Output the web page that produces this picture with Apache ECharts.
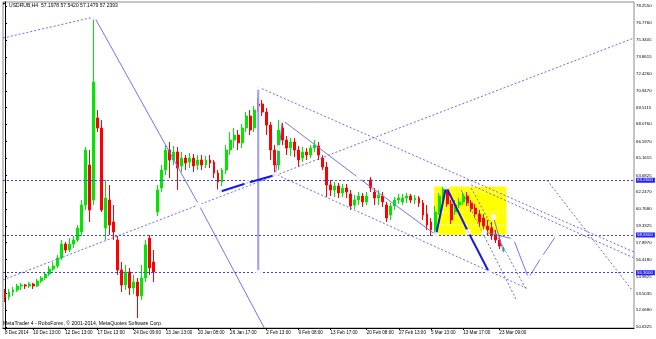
<!DOCTYPE html>
<html><head><meta charset="utf-8">
<script src="https://cdn.jsdelivr.net/npm/echarts@6/dist/echarts.min.js"></script>
<style>html,body{margin:0;padding:0;background:#fff}#c{width:656px;height:339px}</style>
</head><body><div id="c"></div>
<script>
// ---- data ----
const symbolTitle = 'USDRUB,H4  57.1978 57.5420 57.1479 57.2393';
const footer = 'MetaTrader 4 - RoboForex, \u00a9 2001-2014, MetaQuotes Software Corp.';
const priceTicks = [78.2550,76.7760,75.3405,73.8615,72.4260,70.9470,69.5115,68.0760,66.5970,65.1615,63.6825,62.2470,60.7680,59.3325,57.8970,56.4180,54.9825,53.5035,52.0680,50.6325];
const dateLabels = ['8 Dec 2014','10 Dec 13:00','12 Dec 13:00','17 Dec 13:00','24 Dec 09:00','13 Jan 13:00','20 Jan 08:00','26 Jan 17:00','2 Feb 13:00','9 Feb 08:00','13 Feb 17:00','20 Feb 08:00','27 Feb 13:00','5 Mar 13:00','13 Mar 17:00','23 Mar 09:00'];
const dateLabelIdx = [0,7,15,23,32,40,48,56,65,73,81,90,98,106,114,123];
// candles: [open, close, low, high]
const candles = [
[53.56,53.21,52.78,53.90],[53.21,53.64,52.95,53.90],[53.64,53.81,53.30,54.07],[53.81,54.16,53.64,54.33],
[54.16,54.24,53.81,54.42],[54.24,54.16,53.90,54.33],[54.16,54.33,53.99,54.50],[54.33,54.16,53.90,54.42],
[54.16,54.59,54.07,54.76],[54.59,54.85,54.42,55.02],[54.85,55.19,54.68,55.36],[55.19,55.62,55.02,55.88],
[55.62,55.88,55.45,56.22],[55.88,56.57,55.71,56.83],[56.57,57.77,56.40,58.12],[57.77,57.26,57.00,57.94],
[57.26,57.77,57.08,58.29],[57.77,58.12,57.43,58.46],[58.12,59.15,57.94,59.41],[58.81,61.13,58.46,61.56],
[61.13,65.86,60.70,66.12],[64.57,60.70,59.67,65.86],[61.56,71.71,61.13,77.31],[68.62,67.76,67.41,69.30],
[67.76,60.70,60.53,68.44],[59.15,61.73,58.12,63.28],[61.56,59.41,58.55,62.85],[59.67,58.81,58.12,61.13],
[58.12,55.54,55.11,58.46],[55.54,54.24,53.64,56.22],[54.24,55.36,53.81,55.97],[55.36,53.99,53.38,55.71],
[53.99,54.50,53.47,55.11],[54.50,53.30,51.40,54.85],[53.30,54.85,52.95,55.97],[54.85,57.69,54.50,58.12],
[58.29,55.71,55.11,58.55],[56.22,55.36,54.50,57.26],[60.53,62.42,60.18,62.85],[62.59,64.14,62.25,64.57],
[64.14,65.86,63.71,66.29],[65.86,65.00,63.45,66.55],[65.00,65.69,64.57,66.21],[65.69,64.31,62.42,66.12],
[64.49,65.17,63.97,65.69],[65.17,64.74,64.14,65.43],[64.83,65.17,64.31,65.60],[65.17,64.49,63.97,65.52],
[64.57,65.00,64.14,65.43],[65.00,64.57,64.14,65.43],[64.57,65.00,64.31,65.35],[65.00,64.74,64.31,65.43],
[64.83,63.88,63.45,65.00],[63.88,63.11,62.25,64.14],[63.11,64.14,62.76,64.31],[64.14,65.86,63.80,66.29],
[65.86,66.72,65.43,67.41],[66.72,67.15,66.03,67.76],[67.15,66.47,65.86,67.58],[66.47,67.76,66.03,68.10],
[67.76,68.79,67.41,69.13],[68.79,67.58,67.15,69.30],[67.76,69.30,67.41,69.65],[69.82,69.65,69.13,70.34],
[69.82,69.13,68.79,70.17],[69.13,68.01,67.15,69.48],[68.01,65.86,65.00,68.27],[65.86,64.57,63.63,66.29],
[64.57,67.58,64.14,68.44],[67.76,66.72,66.29,68.27],[66.72,66.03,65.43,67.07],[66.03,66.55,65.35,66.90],
[66.55,65.86,65.26,66.90],[65.86,65.00,64.40,66.21],[65.17,65.69,64.83,66.12],[65.69,65.43,65.00,66.03],
[65.43,66.03,65.17,66.29],[66.03,66.29,65.69,66.72],[66.21,65.43,65.00,66.55],[65.17,64.40,64.14,65.43],
[64.40,62.85,61.82,64.83],[62.85,62.42,61.90,63.28],[62.42,62.76,61.82,63.11],[62.76,62.16,61.73,63.02],
[62.16,62.59,61.82,62.94],[62.59,62.25,61.73,62.94],[62.08,61.04,60.70,62.42],[61.13,61.56,60.79,61.99],
[61.56,61.90,61.13,62.25],[61.90,61.39,60.96,62.16],[61.39,61.90,61.13,62.25],[63.28,62.59,62.25,63.54],
[62.25,61.73,61.13,62.59],[61.73,61.99,61.13,62.42],[61.90,61.39,60.96,62.25],[61.13,60.01,59.67,61.39],
[60.27,61.04,59.84,61.30],[61.04,61.56,60.70,61.82],[61.56,61.73,61.22,62.08],[61.39,61.73,61.13,62.08],
[61.73,61.90,61.30,62.16],[61.90,61.56,61.30,62.08],[61.56,61.73,61.22,61.99],[61.73,61.30,60.96,61.90],
[61.30,60.27,59.84,61.56],[60.35,59.41,58.98,61.13],[59.67,58.98,58.46,60.01],[58.98,60.53,58.50,61.04],
[60.53,61.90,60.27,62.16],[61.90,62.51,61.56,62.70],[62.25,61.22,60.96,62.59],[61.22,59.84,59.49,61.56],
[60.53,61.13,60.27,61.56],[61.13,61.39,60.87,61.73],[61.39,61.90,61.13,62.25],[61.90,61.30,61.04,62.25],
[61.30,60.79,60.53,61.56],[60.87,60.35,60.01,61.22],[60.35,59.67,59.32,60.70],[60.01,59.32,58.81,60.35],
[59.32,58.98,58.55,59.84],[59.15,58.46,58.12,59.67],[58.63,58.12,57.86,58.98],[58.12,57.60,57.34,58.46],
[57.20,57.24,57.15,57.54]
];
const slotCount = 157;
// horizontal levels with axis boxes
const levelLines = [63.2590, 58.5523, 55.2970];
const bidPrice = 57.2393;
// drawn objects: [barIndex, price]
const lineDotTopLeft = [[-0.5,75.50],[22.25,77.31]];
const lineFallFromPeak = [[22.25,77.31],[48.25,61.13],[64.5,50.55]];
const lineBigRise = [[-0.5,54.68],[156.5,75.50]];
const lineBold1 = [[53.25,62.25],[60.25,63.02],[67.25,63.71]];
const lineThinUp = [[67.25,63.71],[68.25,66.03],[69,68.44]];
const lineVertical = [[63,71.28],[63,55.297]];
const lineChanUpper = [[63,71.28],[156.5,57.08]];
const lineChanLower = [[67.75,63.71],[130.25,53.90]];
const lineThinDown = [[69,68.44],[88,63.45],[107.25,58.55]];
const lineParallelD = [[116,62.85],[156.5,56.57]];
const lineRightE = [[134.25,63.54],[156,53.81]];
const lineFan1 = [[113.5,62.42],[127.25,52.95]];
const lineFan2 = [[116,62.59],[129.75,53.81]];
const boldWave = [[107.25,58.55],[109.75,62.70],[115.25,58.81],[120.5,55.30]];
const thinFlat = [[119.25,58.81],[126.5,58.20]];
const thinDrop = [[121.5,60.10],[124.25,56.83]];
const projection = [[126.5,58.20],[130.25,54.85],[133.5,56.65],[137.25,58.55]];
const boxRange = {x0:106.75, x1:124.75, top:62.70, bottom:58.55};
const boxInnerLevels = [62.25, 60.53, 59.41];
const markerPts = [[22.25,77.31],[48.25,61.13],[53.25,62.25],[60.25,63.02],[67.25,63.71],[68.25,66.03],[69,68.44],
 [63,71.28],[63,55.297],[88,63.45],[107.25,58.55],[109.75,62.70],[115.25,58.81],[120.5,55.30],
 [119.25,58.81],[126.5,58.20],[121.5,60.10],[124.25,56.83],[130.25,54.85],[133.5,56.65],[137.25,58.55],[134.25,63.54]];

// ---- chart ----
const categories = Array.from({length: slotCount}, (_, i) => {
  const k = dateLabelIdx.indexOf(i); return k >= 0 ? dateLabels[k] : '';
});
const FONT = "'Liberation Sans',Arial,sans-serif";
const DOT = '#6a6aff', SOLID = '#7272ff', BOLD = '#1818e8';
function ln(data, color, width, type, z) {
  return {type:'line', xAxisIndex:1, yAxisIndex:0, data, showSymbol:false, symbol:'none',
    lineStyle:{color, width, type}, z: z || 4, silent:true, animation:false};
}
const series = [
  {type:'line', xAxisIndex:1, yAxisIndex:0, data:[], z:1, silent:true,
   markArea:{silent:true, itemStyle:{color:'#ffff00', opacity:1},
     data:[[{coord:[boxRange.x0, boxRange.top]},{coord:[boxRange.x1, boxRange.bottom]}]]}},
  {type:'candlestick', xAxisIndex:0, yAxisIndex:0, data:candles, z:3, barWidth:2.4,
   itemStyle:{color:'#00e800', color0:'#ff0000', borderColor:'#00e800', borderColor0:'#ff0000', borderWidth:1},
   markLine:{silent:true, symbol:['none','none'], animation:false,
     data: levelLines.map(v => ({yAxis:v, lineStyle:{color:'#3c3cff', width:1, type:[2,2]},
       label:{show:true, position:'end', distance:2, formatter:p=>p.value.toFixed(4), color:'#fff',
         backgroundColor:'#2020ff', padding:[1,2,0,1], fontSize:4.4, fontFamily:FONT}}))
       .concat([{yAxis:bidPrice, lineStyle:{opacity:0, width:0},
         label:{show:true, position:'end', distance:2, formatter:p=>p.value.toFixed(4), color:'#fff',
         backgroundColor:'#000', padding:[1,2,0,1], fontSize:4.4, fontFamily:FONT}}])}
  },
  ...boxInnerLevels.map(v => ln([[boxRange.x0, v],[boxRange.x1, v]], '#ffffff', 1, [2,2], 2)),
  ln(lineDotTopLeft, DOT, 1, [2,2]),
  ln(lineFallFromPeak, SOLID, 1, 'solid'),
  ln(lineBigRise, DOT, 1, [2,2]),
  ln(lineBold1, BOLD, 2, 'solid', 6),
  ln(lineThinUp, SOLID, 1, 'solid'),
  ln(lineVertical, '#9c9cff', 2, 'solid'),
  ln(lineChanUpper, DOT, 1, [2,2]),
  ln(lineChanLower, DOT, 1, [2,2]),
  ln(lineThinDown, SOLID, 1, 'solid'),
  ln(lineParallelD, DOT, 1, [2,2]),
  ln(lineRightE, DOT, 1, [2,2]),
  ln(lineFan1, DOT, 1, [2,2]),
  ln(lineFan2, DOT, 1, [2,2]),
  ln(boldWave, BOLD, 2, 'solid', 6),
  ln(thinFlat, SOLID, 1, 'solid'),
  ln(thinDrop, SOLID, 1, 'solid'),
  ln(projection, SOLID, 1, 'solid'),
  {type:'scatter', xAxisIndex:1, yAxisIndex:0, data:markerPts, symbol:'emptyCircle', symbolSize:4,
   itemStyle:{color:'#fff', borderColor:'#3a3aff', borderWidth:1}, z:7, silent:true, animation:false}
];
const chart = echarts.init(document.getElementById('c'), null, {renderer:'canvas'});
chart.setOption({
  animation:false,
  backgroundColor:'#ffffff',
  grid:{left:3, right:22, top:2, bottom:11, show:true, borderColor:'#8a8a8a', borderWidth:1, backgroundColor:'#fff'},
  xAxis:[
    {type:'category', data:categories, boundaryGap:true,
     axisLine:{show:true, lineStyle:{color:'#000', width:1}},
     axisTick:{show:true, length:2, alignWithLabel:true, interval:(i)=>dateLabelIdx.includes(i), lineStyle:{color:'#000'}},
     axisLabel:{interval:(i)=>dateLabelIdx.includes(i), align:'left', margin:2, fontSize:4.6, color:'#000', fontFamily:FONT},
     splitLine:{show:false}},
    {type:'value', min:-0.5, max:slotCount-0.5, show:false}
  ],
  yAxis:[{type:'value', position:'right', min:50.544, max:78.60, scale:true,
    splitLine:{show:false},
    axisLine:{show:true, lineStyle:{color:'#000', width:1}},
    axisTick:{show:true, length:2, customValues:priceTicks, lineStyle:{color:'#000'}},
    axisLabel:{customValues:priceTicks, formatter:v=>v.toFixed(4), fontSize:4.3, color:'#000', margin:2, fontFamily:FONT}
  }],
  graphic:[
    {type:'text', left:2, top:2, style:{text:'\u25BC', fontSize:4, fill:'#000', fontFamily:FONT}},
    {type:'text', x:9, y:2, scaleX:0.9, style:{text:symbolTitle, fontSize:5.6, fill:'#000', fontFamily:FONT}},
    {type:'text', x:3, y:321, scaleX:0.95, style:{text:footer, fontSize:5.4, fill:'#000', fontFamily:FONT}}
  ],
  series
});
</script></body></html>
